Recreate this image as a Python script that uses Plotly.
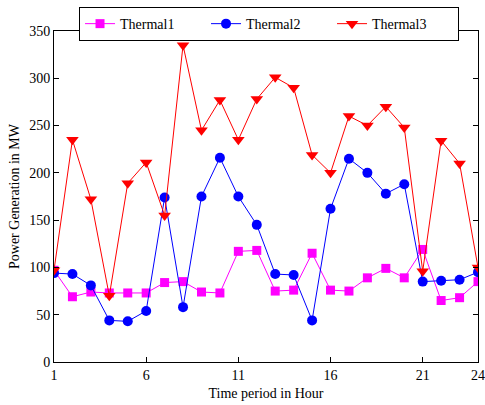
import plotly.graph_objects as go

hours = list(range(1, 25))
thermal1 = [97, 69, 74, 73, 73, 73, 84, 85, 74, 73, 117, 118, 75, 76, 115, 76, 75, 89, 99, 89, 119, 65, 68, 85]
thermal2 = [94, 93, 81, 44, 43, 54, 174, 58, 175, 216, 175, 145, 93, 92, 44, 162, 215, 200, 178, 188, 85, 86, 87, 95]
thermal3 = [97, 235, 172, 70, 189, 211, 155, 335, 245, 277, 235, 278, 301, 290, 219, 200, 260, 250, 270, 248, 96, 234, 210, 100]
x_ticks = [1, 6, 11, 16, 21, 24]
y_ticks = [0, 50, 100, 150, 200, 250, 300, 350]

font_family = "Liberation Serif"
fs = 14

fig = go.Figure()
fig.add_trace(go.Scatter(x=hours, y=thermal1, name="Thermal1", mode="lines+markers",
                         line=dict(color="#ff00ff", width=1),
                         marker=dict(symbol="square", size=9, color="#ff00ff")))
fig.add_trace(go.Scatter(x=hours, y=thermal2, name="Thermal2", mode="lines+markers",
                         line=dict(color="#0000ff", width=1),
                         marker=dict(symbol="circle", size=10, color="#0000ff")))
fig.add_trace(go.Scatter(x=hours, y=thermal3, name="Thermal3", mode="lines+markers",
                         line=dict(color="#ff0000", width=1),
                         marker=dict(symbol="triangle-down", size=11, color="#ff0000")))

axis_common = dict(showgrid=False, zeroline=False, showline=True, linecolor="black",
                   linewidth=1, mirror="ticks", ticks="inside", ticklen=5,
                   tickcolor="black", ticklabeloverflow="allow", automargin=False,
                   tickfont=dict(family=font_family, size=fs, color="black"))

fig.update_xaxes(range=[1, 24], tickvals=x_ticks,
                 title=dict(text="Time period in Hour", font=dict(family=font_family, size=fs, color="black"), standoff=6),
                 **axis_common)
fig.update_yaxes(range=[0, 350], tickvals=y_ticks,
                 title=dict(text="Power Generation in MW", font=dict(family=font_family, size=fs, color="black"), standoff=6),
                 **axis_common)

fig.update_layout(
    width=485, height=405,
    margin=dict(l=54, r=7, t=29, b=43),
    plot_bgcolor="white", paper_bgcolor="white",
    font=dict(family=font_family, size=fs, color="black"),
    legend=dict(orientation="h", x=0.059, y=1.021, xanchor="left", yanchor="middle",
                bgcolor="white", bordercolor="black", borderwidth=1,
                entrywidth=81, entrywidthmode="pixels",
                font=dict(family=font_family, size=fs, color="black")),
)

fig.write_html("out.html")
